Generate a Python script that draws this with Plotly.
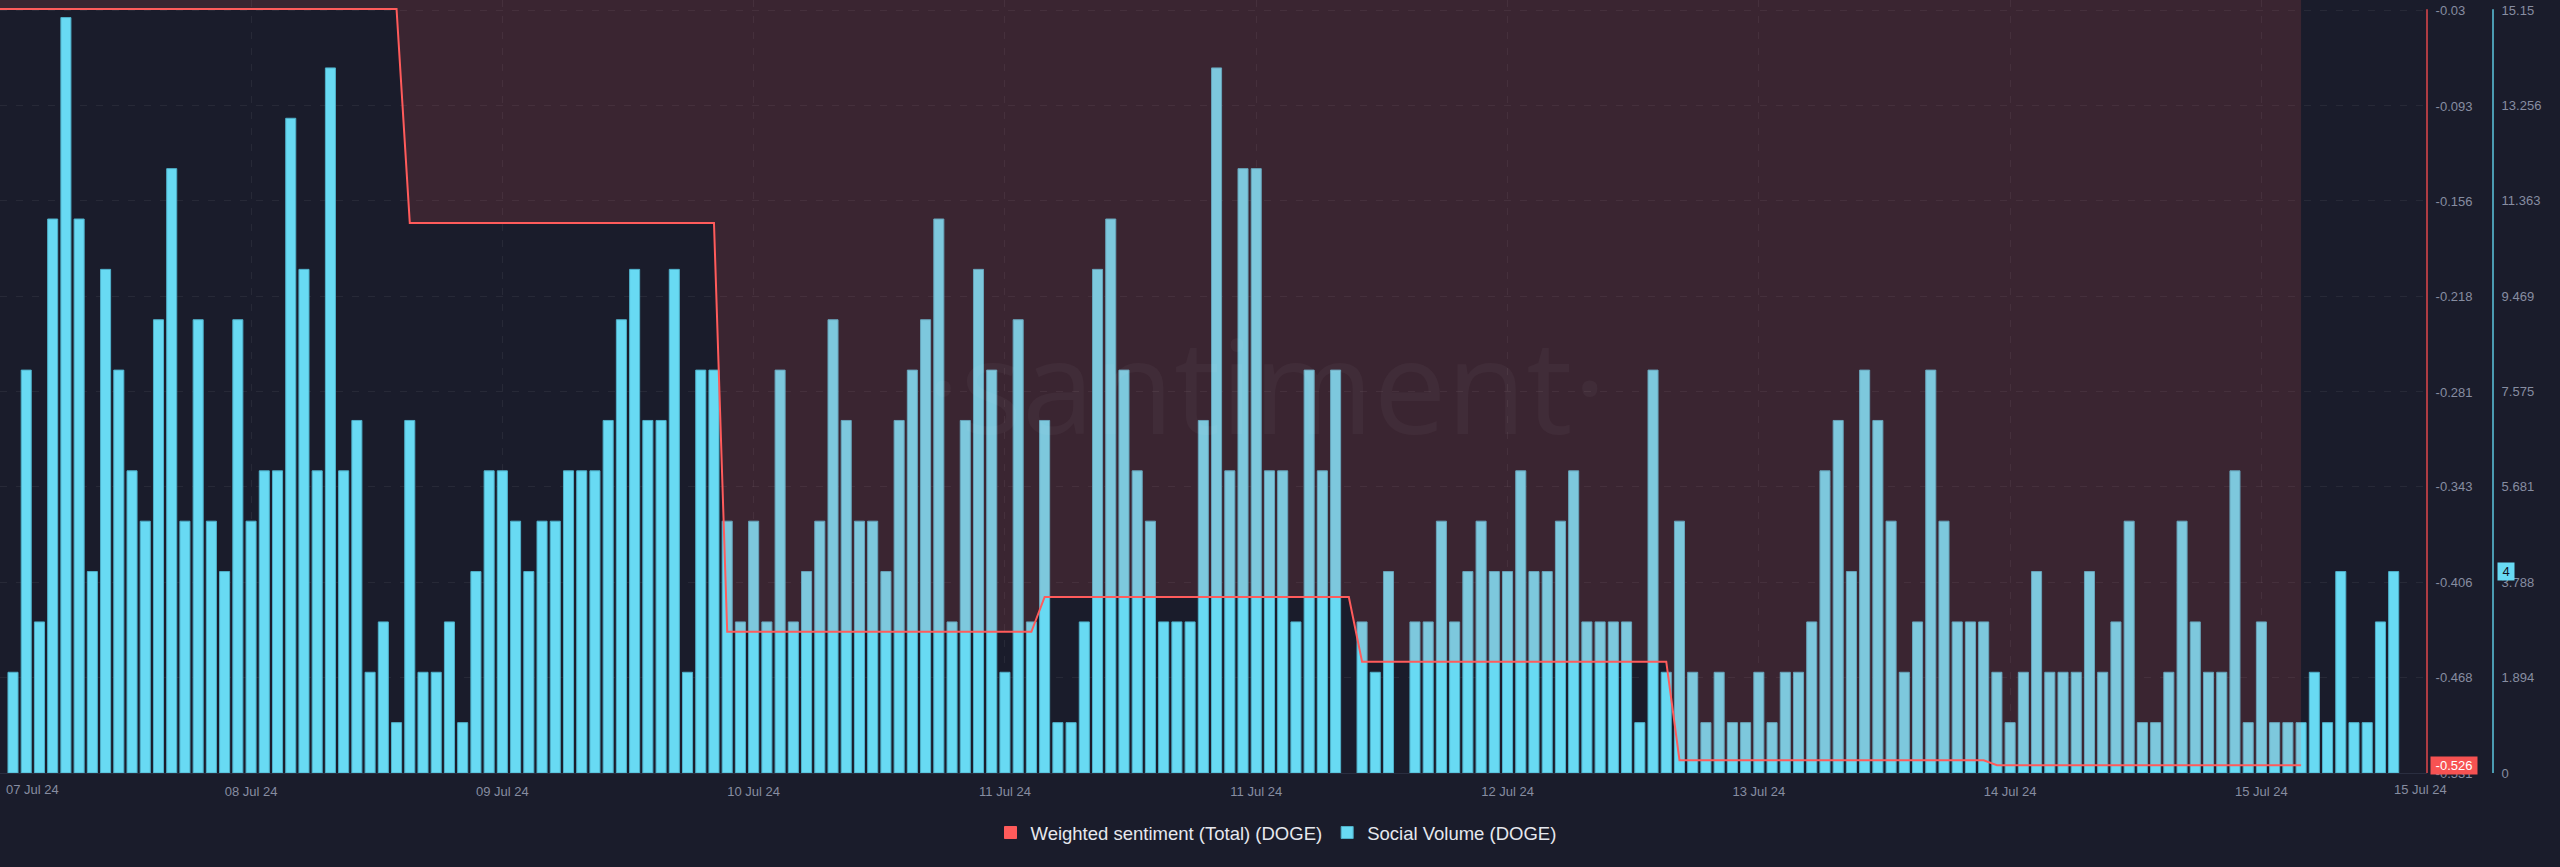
import plotly.graph_objects as go

# ---------------- data ----------------
# Social Volume (DOGE), hourly bars
volume = [
    2, 8, 3, 11, 15, 11, 4, 10, 8, 6, 5, 9, 12, 5, 9, 5, 4, 9, 5, 6, 6, 13, 10, 6, 14, 6, 7, 2, 3, 1, 7, 2, 2, 3, 1, 4,
    6, 6, 5, 4, 5, 5, 6, 6, 6, 7, 9, 10, 7, 7, 10, 2, 8, 8, 5, 3, 5, 3, 8, 3, 4, 5, 9, 7, 5, 5, 4, 7, 8, 9, 11, 3,
    7, 10, 8, 2, 9, 3, 7, 1, 1, 3, 10, 11, 8, 6, 5, 3, 3, 3, 7, 14, 6, 12, 12, 6, 6, 3, 8, 6, 8, 0, 3, 2, 4, 0, 3, 3,
    5, 3, 4, 5, 4, 4, 6, 4, 4, 5, 6, 3, 3, 3, 3, 1, 8, 2, 5, 2, 1, 2, 1, 1, 2, 1, 2, 2, 3, 6, 7, 4, 8, 7, 5, 2, 3,
    8, 5, 3, 3, 3, 2, 1, 2, 4, 2, 2, 2, 4, 2, 3, 5, 1, 1, 2, 5, 3, 2, 2, 6, 1, 3, 1, 1, 1, 2, 1, 4, 1, 1, 3, 4,
]
hours = list(range(len(volume)))

# Weighted sentiment (Total) (DOGE): vertices of the daily step line (hour index, value)
sent_idx = [-1, 29, 30, 53, 54, 77, 78, 101, 102, 125, 126, 149, 150, 173]
sent_val = [-0.0293, -0.0293, -0.1698, -0.1698, -0.4383, -0.4383, -0.4154, -0.4154,
            -0.4579, -0.4579, -0.5226, -0.5226, -0.5259, -0.5259]
sent_zero = [0.0] * len(sent_idx)

# x tick labels
x_tick_idx = [18, 37, 56, 75, 94, 113, 132, 151, 170]
x_tick_text = ["08 Jul 24", "09 Jul 24", "10 Jul 24", "11 Jul 24", "11 Jul 24",
               "12 Jul 24", "13 Jul 24", "14 Jul 24", "15 Jul 24"]
edge_idx = [1.5, 182.0]
edge_text = ["07 Jul 24", "15 Jul 24"]

# y tick labels
vol_ticks = [0, 1.894, 3.788, 5.681, 7.575, 9.469, 11.363, 13.256, 15.15]
vol_tick_text = ["0", "1.894", "3.788", "5.681", "7.575", "9.469", "11.363", "13.256", "15.15"]
sent_ticks = [-0.531, -0.468, -0.406, -0.343, -0.281, -0.218, -0.156, -0.093, -0.03]
sent_tick_text = ["-0.531", "-0.468", "-0.406", "-0.343", "-0.281", "-0.218", "-0.156", "-0.093", "-0.03"]

# ---------------- style ----------------
BG = "#1a1c2b"
CYAN = "#68daf3"
RED = "#ff5b5b"
GRID = "rgba(255,255,255,0.06)"
TICK = "#878da1"
FONT = "Liberation Sans, Arial, sans-serif"

W, H = 2560, 867
plot_right = 2427
axis2_x = 2493
x_dom_end = plot_right / axis2_x

fig = go.Figure()

# Social volume bars (base axis)
fig.add_trace(go.Bar(
    x=hours, y=volume, yaxis="y", name="Social Volume (DOGE)",
    width=0.76,
    marker=dict(color=CYAN, line=dict(color="#4fb0c9", width=[1 if v > 0 else 0 for v in volume])),
    legendrank=2, hoverinfo="skip",
))
# Legend proxy for sentiment (red square)
fig.add_trace(go.Bar(
    x=[None], y=[None], yaxis="y", name="Weighted sentiment (Total) (DOGE)",
    marker=dict(color=RED, line=dict(color=RED, width=1)), legendrank=1,
))
# Sentiment: zero boundary + line with fill between
fig.add_trace(go.Scatter(
    x=sent_idx, y=sent_zero, yaxis="y2", mode="lines",
    line=dict(width=0, color="rgba(0,0,0,0)"), showlegend=False, hoverinfo="skip",
))
fig.add_trace(go.Scatter(
    x=sent_idx, y=sent_val, yaxis="y2", mode="lines",
    line=dict(color=RED, width=2), fill="tonexty",
    fillcolor="rgba(255,90,90,0.14)", showlegend=False, hoverinfo="skip",
))

vol_range = [0, 15.15 + 10 * (15.15 / 763)]
sent_range = [-0.531, -0.03 + 10 * (0.501 / 763)]
x_range = [(0 - 13) / 13.226, (plot_right - 13) / 13.226]

fig.update_layout(
    width=W, height=H,
    paper_bgcolor=BG, plot_bgcolor=BG,
    margin=dict(l=0, r=W - axis2_x, t=0, b=94),
    barmode="overlay",
    font=dict(family=FONT, size=13, color=TICK),
    xaxis=dict(
        domain=[0, x_dom_end], range=x_range, showline=True, linecolor="#2a2e40", linewidth=1,
        tickmode="array", tickvals=x_tick_idx, ticktext=x_tick_text,
        ticks="outside", ticklen=6, tickcolor="rgba(0,0,0,0)",
        showgrid=True, gridcolor=GRID, griddash="7px,9px", gridwidth=1,
        zeroline=False, tickfont=dict(family=FONT, size=13, color=TICK),
    ),
    yaxis=dict(
        range=vol_range, side="right", anchor="free", position=1.0,
        tickmode="array", tickvals=vol_ticks, ticktext=vol_tick_text,
        ticks="outside", ticklen=5, tickcolor="rgba(0,0,0,0)",
        showline=False, showgrid=True, gridcolor=GRID, griddash="7px,9px", gridwidth=1,
        zeroline=False, tickfont=dict(family=FONT, size=13, color=TICK),
    ),
    yaxis2=dict(
        range=sent_range, side="right", overlaying="y", anchor="x",
        tickmode="array", tickvals=sent_ticks, ticktext=sent_tick_text,
        ticks="outside", ticklen=5, tickcolor="rgba(0,0,0,0)",
        showline=False, showgrid=False, zeroline=False,
        tickfont=dict(family=FONT, size=13, color=TICK),
    ),
    legend=dict(
        orientation="h", x=1276 / axis2_x, xanchor="center", y=-(833 - 773) / 773, yanchor="middle",
        font=dict(family=FONT, size=18.5, color="#e6e8ee"), bgcolor="rgba(0,0,0,0)",
        itemwidth=30, traceorder="normal",
    ),
    showlegend=True,
)

top_frac = (773 - 9.3) / 773
fig.add_shape(type="line", xref="paper", yref="paper", x0=x_dom_end, x1=x_dom_end, y0=0, y1=top_frac,
              line=dict(color="#e2474d", width=1.5))
fig.add_shape(type="line", xref="paper", yref="paper", x0=1.0, x1=1.0, y0=0, y1=top_frac,
              line=dict(color="#5cc6df", width=1.5))

# edge x labels
for xi, tx in zip(edge_idx, edge_text):
    fig.add_annotation(x=xi, xref="x", y=0, yref="paper", yanchor="top", yshift=-7,
                       text=tx, showarrow=False, font=dict(family=FONT, size=13, color=TICK))

# watermark
fig.add_annotation(x=1266 / axis2_x, xref="paper", y=(773 - 383) / 773, yref="paper",
                   text="·santiment·", showarrow=False,
                   font=dict(family="Open Sans, sans-serif", size=130, color="rgba(255,255,255,0.035)"))

# last-value markers
fig.add_annotation(x=x_dom_end, xref="paper", y=sent_val[-1], yref="y2", xanchor="left", xshift=3,
                   text="\u00a0" + f"{sent_val[-1]:.3f}" + "\u00a0", showarrow=False, bgcolor="#f75252",
                   borderpad=1, font=dict(family=FONT, size=13, color="#ffffff"))
fig.add_annotation(x=1.0, xref="paper", y=volume[-1], yref="y", xanchor="left", xshift=4,
                   text="\u00a0" + str(volume[-1]) + "\u00a0", showarrow=False, bgcolor=CYAN,
                   borderpad=1, font=dict(family=FONT, size=13, color="#10131f"))

fig.write_html("out.html", config={"displayModeBar": False},
               post_script="document.body.style.margin='0px';document.body.style.overflow='hidden';")
